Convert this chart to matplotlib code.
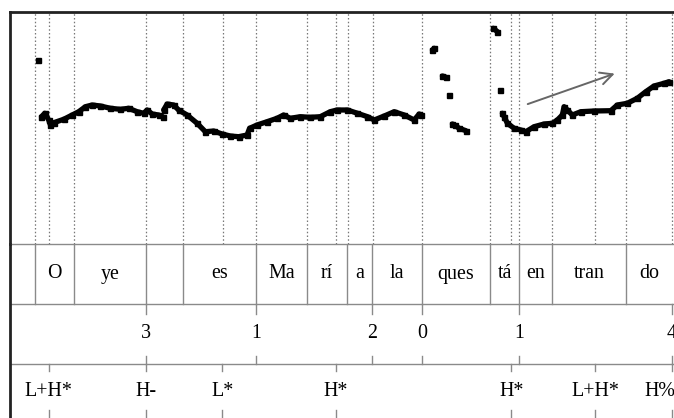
import numpy as np
import matplotlib
matplotlib.use("Agg")
import matplotlib.pyplot as plt

plt.rcParams['font.family'] = ['Liberation Serif', 'DejaVu Serif']

nan = np.nan
# pitch track (time in s, F0 in Hz); NaN = unvoiced gap
f0_time = [0.115, nan,
           0.128, 0.141, 0.157, 0.164, 0.177, 0.217, 0.251, 0.277, 0.304, 0.331, 0.364, 0.404,
           0.444, 0.477, 0.511, 0.537, 0.551, 0.571, 0.597, 0.613, nan,
           0.617, 0.631, 0.657, 0.677, 0.711, 0.751, 0.784, 0.817, 0.851, 0.884, 0.917, 0.951,
           0.961, 0.991, 1.031, 1.071, 1.097, 1.124, 1.164, 1.204, 1.244, 1.284, 1.311, 1.353,
           1.393, 1.433, 1.460, 1.500, 1.540, 1.580, 1.620, 1.640, 1.647, nan,
           1.693, 1.700, nan, 1.733, 1.747, nan, 1.760, nan,
           1.773, 1.784, 1.800, 1.827, nan, 1.937, 1.953, nan, 1.963, nan,
           1.973, 1.980, 1.993, 2.020, 2.047, 2.067, 2.100, 2.140, 2.173, 2.193, 2.213, 2.220,
           2.233, 2.253, 2.287, 2.340, 2.407, 2.433, 2.473, 2.513, 2.547, 2.580, 2.620, 2.640]
f0_hz = [418, nan,
         304.6, 311.4, 298, 288, 292.6, 299.4, 308, 314.6, 324.6, 328, 326, 321.4,
         319.4, 321.4, 314.6, 311.4, 318, 310, 308, 304.6, nan,
         318, 330, 328, 318, 308, 291.4, 274.6, 276, 270, 266, 264.6, 268,
         281.4, 288, 294.6, 301.4, 308, 301.4, 304.6, 303.4, 304.6, 314.6, 318, 318,
         311.4, 304.6, 298, 306, 314.6, 308, 298, 310, 308, nan,
         438, 441.4, nan, 386, 383.4, nan, 348, nan,
         290, 287, 281.4, 276.6, nan, 481.4, 474.6, nan, 358, nan,
         311.4, 304.6, 291.4, 281.4, 278, 274.6, 284.6, 290, 291.4, 298, 308, 324.6,
         318, 308, 314.6, 316, 316.6, 328, 331.4, 341.4, 354.6, 366, 371.4, 374.6]

# dotted guide lines in the pitch panel (s)
guide_times = [0.103, 0.157, 0.260, 0.547, 0.696, 0.853, 0.987, 1.189, 1.307, 1.355,
               1.456, 1.651, 1.923, 2.008, 2.041, 2.171, 2.344, 2.469, 2.652]

# syllable tier
syl_bounds = [0.0, 0.103, 0.258, 0.547, 0.696, 0.987, 1.189, 1.351, 1.451, 1.651,
              1.923, 2.041, 2.173, 2.469, 2.652]
syl_labels = ["", "O", "ye", "", "es", "Ma", "rí", "a", "la", "ques", "tá", "en", "tran", "do"]

# break index tier
brk_times = [0.547, 0.987, 1.451, 1.651, 2.041, 2.652]
brk_labels = ["3", "1", "2", "0", "1", "4"]

# tone tier
tone_times = [0.157, 0.547, 0.851, 1.307, 2.008, 2.344, 2.652]
tone_labels = ["L+H*", "H-", "L*", "H*", "H*", "L+H*", "H%"]

# rising arrow (time, Hz)
arrow_start = (2.064, 328)
arrow_end = (2.433, 392.6)

W, H = 674, 418
fig = plt.figure(figsize=(W / 100, H / 100), dpi=100)

left = 9.5 / W
width = 1 - left
xmax = 2.66
top_px, mid_px = 12, 244

ax = fig.add_axes([left, (H - mid_px) / H, width, (mid_px - top_px) / H])
ax.set_xlim(0, xmax)
ax.set_ylim(50, 514)
ax.set_xticks([]); ax.set_yticks([])
ax.spines['right'].set_visible(False)
ax.spines['top'].set_linewidth(2.0); ax.spines['top'].set_color('#222')
ax.spines['left'].set_linewidth(2.0); ax.spines['left'].set_color('#222')
ax.spines['bottom'].set_linewidth(1.0); ax.spines['bottom'].set_color('#8a8a8a')

for t in guide_times:
    ax.axvline(t, color='#777', lw=0.9, ls=(0, (1.2, 1.8)), zorder=1)

ax.plot(f0_time, f0_hz, color='black', lw=3.8, solid_capstyle='round',
        solid_joinstyle='round', marker='s', ms=3.6, zorder=3)

ax.annotate('', xy=arrow_end, xytext=arrow_start,
            arrowprops=dict(arrowstyle='->', color='#666', lw=1.4, mutation_scale=22))

# tiers
tx = fig.add_axes([left, 0, width, (H - mid_px) / H])
tx.patch.set_alpha(0)
tx.set_xlim(0, xmax)
tx.set_ylim(2.9, 0)
tx.set_xticks([]); tx.set_yticks([])
for s in ['top', 'right', 'bottom']:
    tx.spines[s].set_visible(False)
tx.spines['left'].set_linewidth(2.0); tx.spines['left'].set_color('#222')

sep = '#8a8a8a'
tx.axhline(1.0, color=sep, lw=1.0)
tx.axhline(2.0, color=sep, lw=1.0)

fs = 14.4
for b in syl_bounds[1:-1]:
    tx.plot([b, b], [0, 1], color=sep, lw=1.0)
for a, b, lab in zip(syl_bounds[:-1], syl_bounds[1:], syl_labels):
    if lab:
        tx.text((a + b) / 2, 0.5, lab, ha='center', va='center', fontsize=fs)

for t, lab in zip(brk_times, brk_labels):
    tx.plot([t, t], [1.0, 1.16], color=sep, lw=1.0)
    tx.plot([t, t], [1.87, 2.0], color=sep, lw=1.0)
    tx.text(t, 1.5, lab, ha='center', va='center', fontsize=fs)

for i, (t, lab) in enumerate(zip(tone_times, tone_labels)):
    tx.plot([t, t], [2.0, 2.12], color=sep, lw=1.0)
    tx.plot([t, t], [2.76, 2.9], color=sep, lw=1.0)
    if i == len(tone_times) - 1:
        tx.text(xmax + 0.005, 2.46, lab, ha='right', va='center', fontsize=fs)
    else:
        tx.text(t, 2.46, lab, ha='center', va='center', fontsize=fs)

fig.savefig('out.png', dpi=100)
